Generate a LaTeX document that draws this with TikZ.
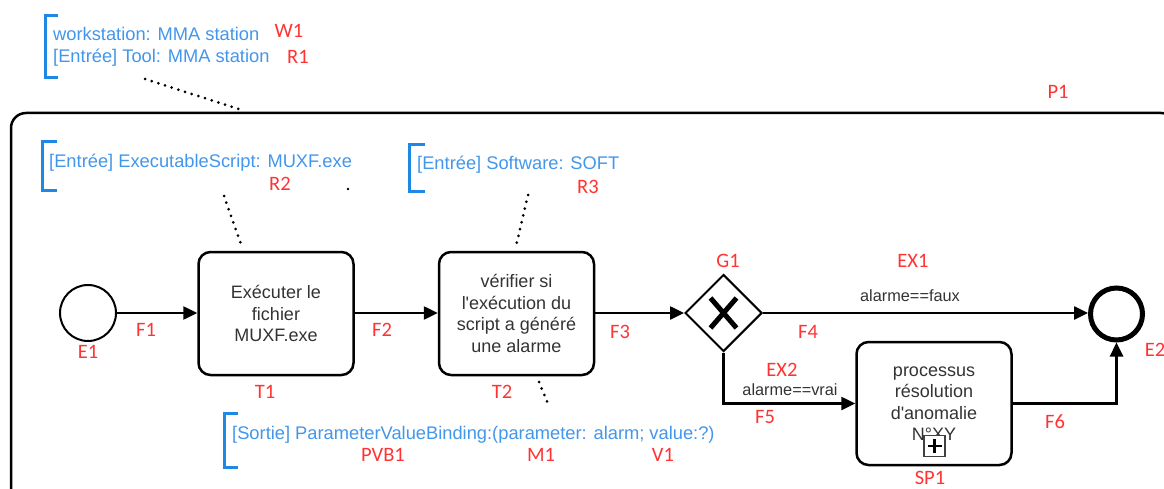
\documentclass[tikz,border=0pt]{standalone}
\usepackage{fontspec}
\setmainfont{Liberation Sans}
\newfontfamily\plainfont{Liberation Sans}
\newfontfamily\lblfont{Carlito}
\usetikzlibrary{arrows.meta,shapes.geometric,calc}
\definecolor{annblue}{RGB}{66,150,235}
\definecolor{brblue}{RGB}{30,136,229}
\definecolor{lblred}{RGB}{255,51,51}
\definecolor{txtgrey}{RGB}{51,51,51}
\begin{document}
\begin{tikzpicture}[x=1pt,y=-1pt,
 lbl/.style={text=lblred, font=\lblfont\fontsize{20.5}{22}\selectfont, inner sep=0pt},
 ann/.style={text=annblue, font=\plainfont\fontsize{18.3}{21}\selectfont, anchor=base west, inner sep=0pt},
 task/.style={draw, line width=2.5pt, rounded corners=12pt, align=center, text=txtgrey,
   font=\plainfont\fontsize{18}{21.5}\selectfont, minimum width=155pt, minimum height=123pt, inner sep=0pt},
 flow/.style={line width=2.5pt, -{Triangle[length=14pt,width=13pt]}},
 assoc/.style={line width=3pt, line cap=round, dash pattern=on 0pt off 7pt},
 bracketline/.style={draw=brblue, line width=3pt},
 cond/.style={text=txtgrey, font=\plainfont\fontsize{16.3}{18}\selectfont, inner sep=0pt}]
\useasboundingbox (0,0) rectangle (1164,489);

% pool
\draw[line width=2.5pt, rounded corners=15pt] (11,113) rectangle (1176,505);
\coordinate (P1top) at (245,111);

% annotation W1 / R1
\draw[bracketline] (58,16) -- (45,16) -- (45,78) -- (58,78);
\node[ann] (A1a) at (53,41) {workstation: MMA station};
\node[ann] (A1b) at (53,63) {[Entrée] Tool: MMA station};
\coordinate (A1s) at (145,79);
\draw[assoc] (A1s) -- (P1top);

% annotation R2
\draw[bracketline] (57,142) -- (42,142) -- (42,191) -- (57,191);
\node[ann] (A2) at (49,168) {[Entrée] ExecutableScript: MUXF.exe};
\fill (348,189) circle (1.3pt);

% annotation R3
\draw[bracketline] (425,145) -- (409,145) -- (409,192) -- (425,192);
\node[ann] (A3) at (417,170) {[Entrée] Software: SOFT};

% annotation PVB1
\draw[bracketline] (238,413) -- (224,413) -- (224,467) -- (238,467);
\node[ann] (A4) at (232,439) {[Sortie] ParameterValueBinding:(parameter: alarm; value:?)};

% flow objects
\node[circle, draw, line width=2pt, minimum size=56pt, inner sep=0pt] (E1) at (88,313) {};
\node[task] (T1) at (276,313.5) {Exécuter le\\fichier\\MUXF.exe};
\node[task] (T2) at (516.5,313.5) {vérifier si\\l'exécution du\\script a généré\\une alarme};
\node[diamond, draw, line width=2pt, minimum width=77pt, minimum height=77pt, inner sep=0pt, aspect=1] (G1) at (723.5,313) {};
\draw[line width=5pt] (710.5,298) -- (736.5,328) (736.5,298) -- (710.5,328);
\node[circle, draw, line width=5pt, minimum size=52pt, inner sep=0pt] (E2) at (1116.5,314) {};
\node[task] (SP1) at (934,403.5) {processus\\résolution\\d'anomalie\\N°XY};
\node[draw=black!75, fill=white, line width=1.3pt, minimum size=21pt, inner sep=0pt] (SPM) at (934.5,446) {};
\draw[line width=2.5pt] ($(SPM)+(-7,0)$) -- ($(SPM)+(7,0)$) ($(SPM)+(0,-7)$) -- ($(SPM)+(0,7)$);

% association lines to tasks
\coordinate (A2s) at (224,196);
\coordinate (T1a) at (242,247);
\draw[assoc] (A2s) -- (T1a);
\coordinate (A3s) at (528,195);
\coordinate (T2a) at (516,246);
\draw[assoc] (A3s) -- (T2a);
\coordinate (T2b) at (539,382);
\coordinate (A4s) at (549,406);
\draw[assoc] (T2b) -- (A4s);

% sequence flows
\draw[flow] (E1.east) -- (E1.east -| T1.west);
\draw[flow] (T1.east |- E1.east) -- (T2.west |- E1.east);
\draw[flow] (T2.east |- E1.east) -- (G1.west);
\draw[flow] (G1.east) -- (G1.east -| E2.west);
\draw[flow] (G1.south) |- (SP1.west);
\draw[flow] (SP1.east) -| (E2.south);

% condition texts
\node[cond] (C1) at (910,296) {alarme==faux};
\node[cond] (C2) at (790,390) {alarme==vrai};

% red labels
\node[lbl] at (289,31) {W1};
\node[lbl] at (298,57) {R1};
\node[lbl] at (1058,92) {P1};
\node[lbl] at (280,184) {R2};
\node[lbl] at (588,187) {R3};
\node[lbl] at (88,352) {E1};
\node[lbl] at (146,330) {F1};
\node[lbl] at (265,392) {T1};
\node[lbl] at (382,330) {F2};
\node[lbl] at (502,392) {T2};
\node[lbl] at (620,332) {F3};
\node[lbl] at (728,261) {G1};
\node[lbl] at (913,261) {EX1};
\node[lbl] at (808,332) {F4};
\node[lbl] at (782,370) {EX2};
\node[lbl] at (765,417) {F5};
\node[lbl] at (930,478) {SP1};
\node[lbl] at (1055,422) {F6};
\node[lbl] at (1155,350) {E2};
\node[lbl] at (383,455) {PVB1};
\node[lbl] at (541,455) {M1};
\node[lbl] at (663,455) {V1};
\end{tikzpicture}
\end{document}
